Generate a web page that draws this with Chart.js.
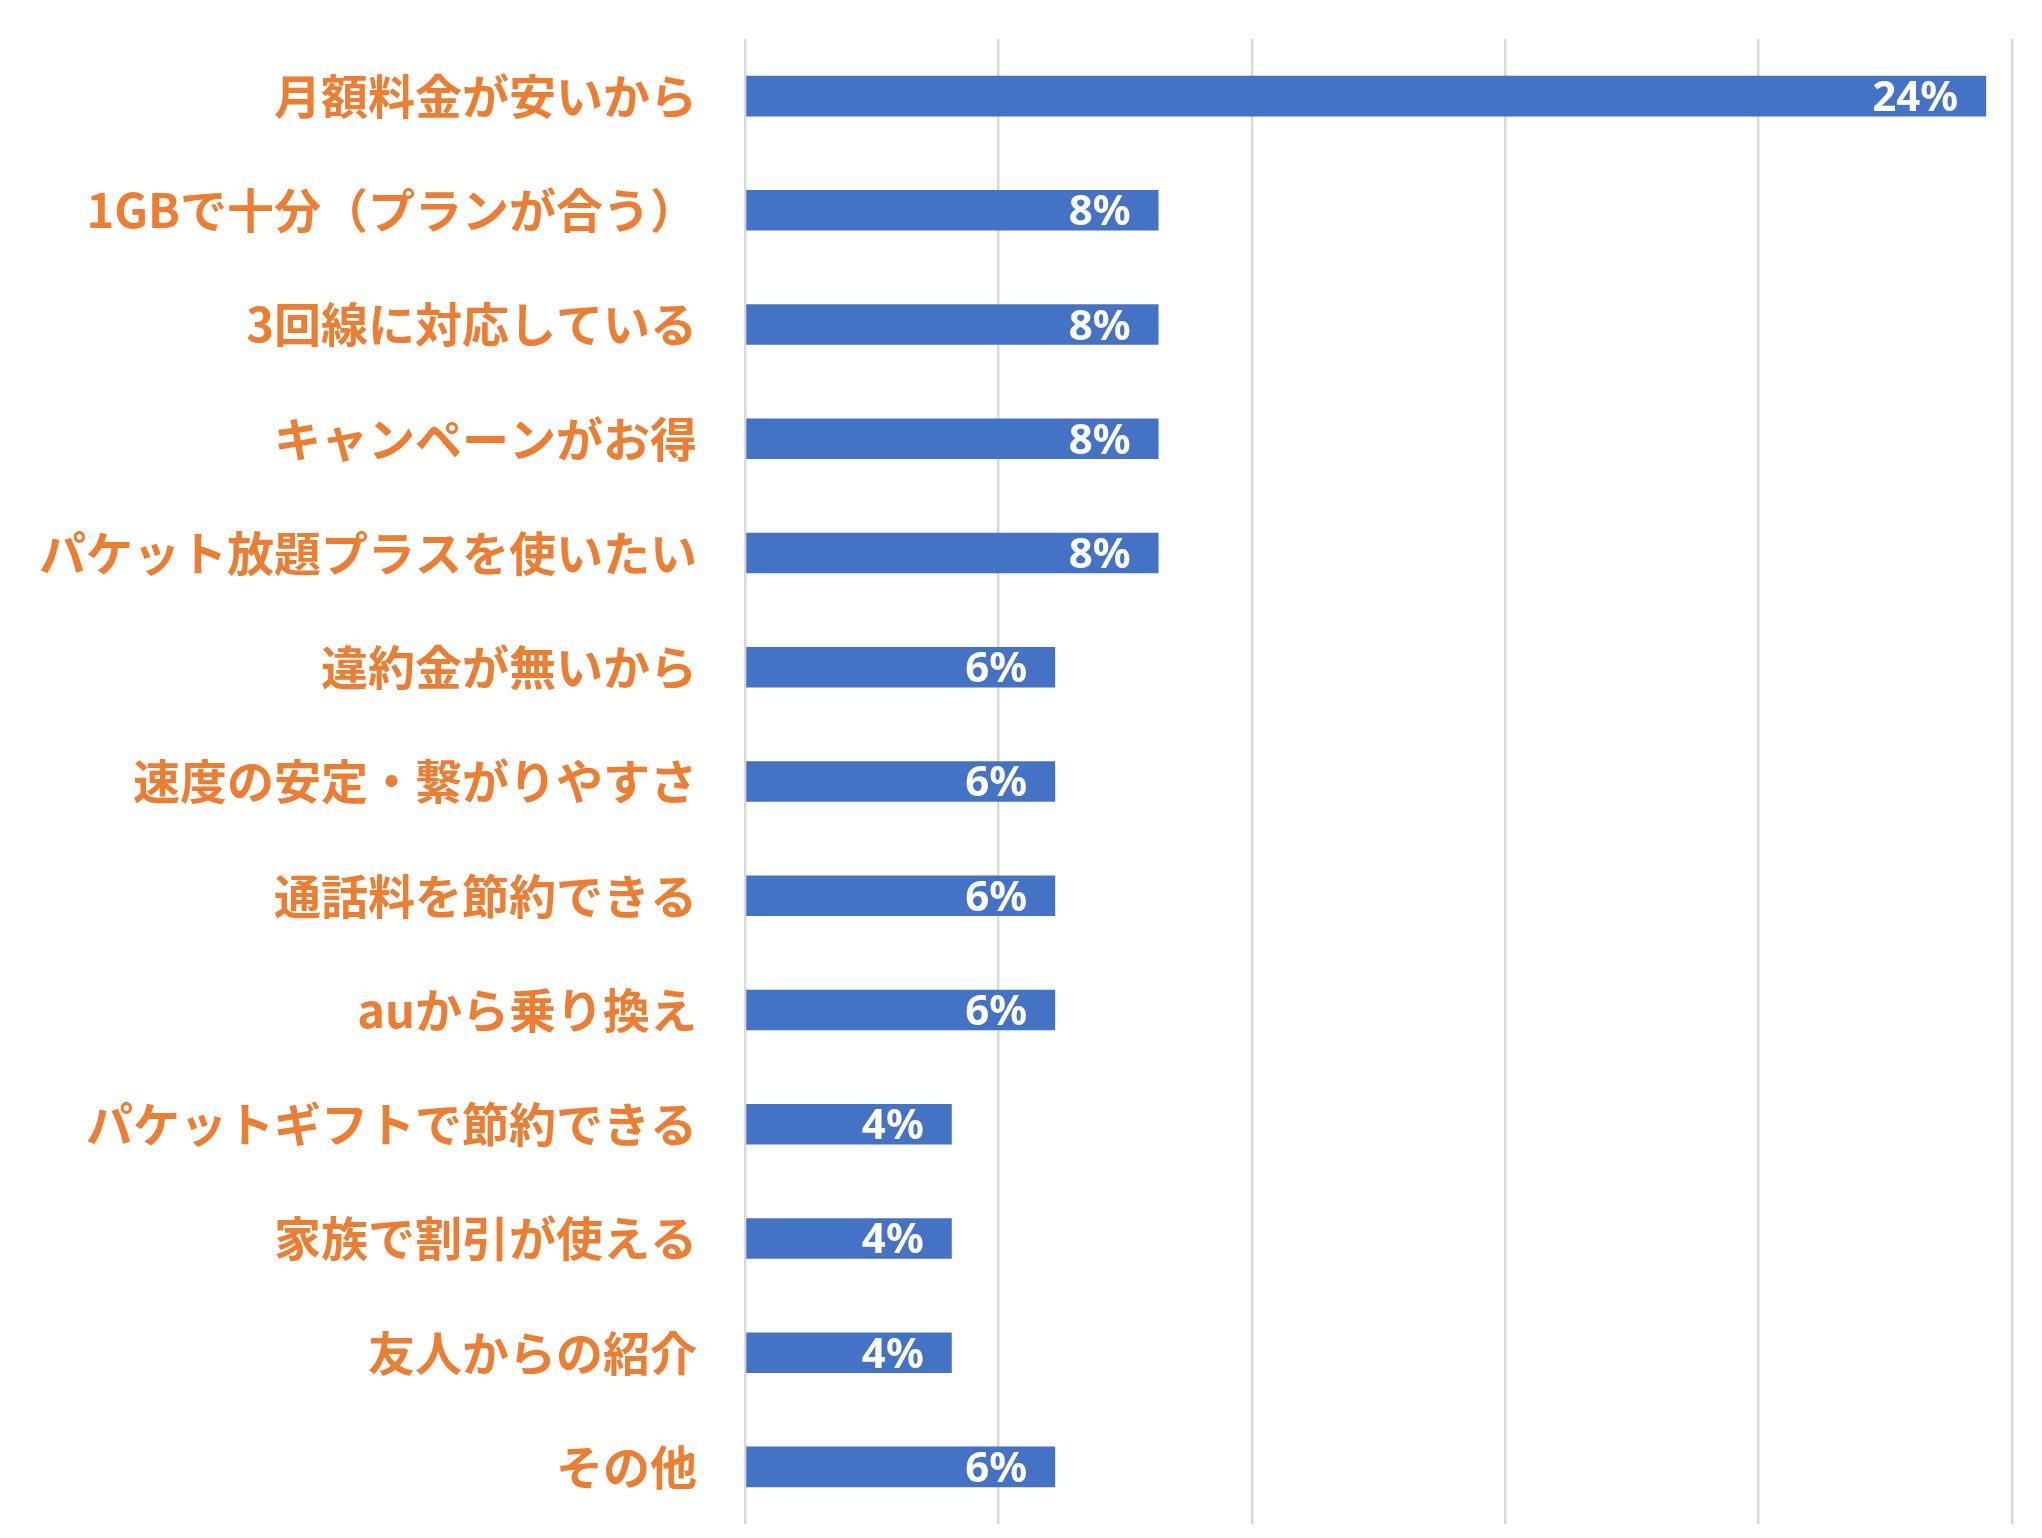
<!DOCTYPE html>
<html lang="ja">
<head>
<meta charset="utf-8">
<script src="https://cdn.jsdelivr.net/npm/chart.js@4/dist/chart.umd.min.js"></script>
<style>
  html, body { margin: 0; padding: 0; background: #fff; }
  #wrap { width: 2042px; height: 1538px; position: relative; }
</style>
</head>
<body>
<div id="wrap"><canvas id="reasonChart"></canvas></div>
<script>
// reasons (top to bottom) and share of respondents in %
var reasons = [
  '月額料金が安いから',
  '1GBで十分（プランが合う）',
  '3回線に対応している',
  'キャンペーンがお得',
  'パケット放題プラスを使いたい',
  '違約金が無いから',
  '速度の安定・繋がりやすさ',
  '通話料を節約できる',
  'auから乗り換え',
  'パケットギフトで節約できる',
  '家族で割引が使える',
  '友人からの紹介',
  'その他'
];
var shares = [24.49, 8.16, 8.16, 8.16, 8.16, 6.12, 6.12, 6.12, 6.12, 4.08, 4.08, 4.08, 6.12];
var axisTicks = [0, 5, 10, 15, 20, 25];

// white value label drawn inside the end of each bar
var barValueLabels = {
  id: 'barValueLabels',
  afterDatasetsDraw: function(chart) {
    var ctx = chart.ctx;
    var meta = chart.getDatasetMeta(0);
    ctx.save();
    ctx.fillStyle = '#ffffff';
    ctx.font = 'bold 42px "Noto Sans", "Liberation Sans", sans-serif';
    ctx.textAlign = 'right';
    ctx.textBaseline = 'middle';
    meta.data.forEach(function(bar, i) {
      ctx.fillText(Math.round(shares[i]) + '%', bar.x - 28, bar.y + 3);
    });
    ctx.restore();
  }
};

var ctx = document.getElementById('reasonChart').getContext('2d');
var myChart = new Chart(ctx, {
  type: 'bar',
  data: {
    labels: reasons,
    datasets: [{
      label: '選んだ理由',
      data: shares,
      backgroundColor: '#4472C4',
      borderWidth: 0,
      categoryPercentage: 1,
      barPercentage: 0.355
    }]
  },
  options: {
    indexAxis: 'y',
    responsive: true,
    maintainAspectRatio: false,
    animation: false,
    layout: { padding: { top: 39, bottom: 14, right: 30, left: 0 } },
    plugins: {
      legend: { display: false },
      tooltip: { enabled: false }
    },
    scales: {
      x: {
        min: axisTicks[0],
        max: axisTicks[axisTicks.length - 1],
        afterBuildTicks: function(scale) {
          scale.ticks = axisTicks.map(function(v) { return { value: v }; });
        },
        afterFit: function(scale) { scale.height = 0; },
        ticks: { display: false },
        grid: { color: '#D9D9D9', lineWidth: 2.5, drawTicks: false },
        border: { display: false }
      },
      y: {
        afterFit: function(scale) {
          scale.width = 745;
          scale.paddingTop = 0;
          scale.paddingBottom = 0;
        },
        grid: { display: false, drawTicks: false },
        border: { display: false },
        ticks: {
          autoSkip: false,
          padding: 48,
          color: '#ED7D31',
          font: { family: '"Noto Sans CJK JP", "Noto Sans", sans-serif', size: 47, weight: 'bold' }
        }
      }
    }
  },
  plugins: [barValueLabels]
});
</script>
</body>
</html>
